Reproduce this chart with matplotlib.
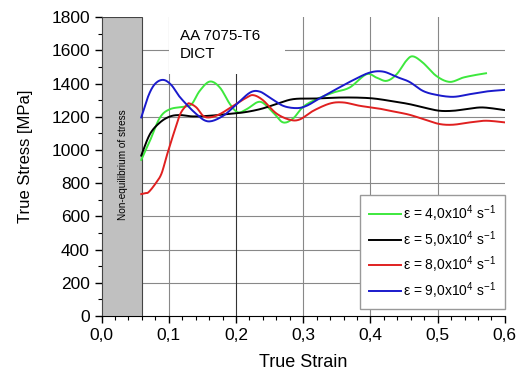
import numpy as np
import matplotlib
matplotlib.use("Agg")
import matplotlib.pyplot as plt
from matplotlib.patches import Rectangle
from matplotlib.ticker import MultipleLocator, FuncFormatter

plt.rcParams['font.family'] = ['Liberation Sans', 'DejaVu Sans']
plt.rcParams['mathtext.fontset'] = 'custom'
plt.rcParams['mathtext.rm'] = 'Liberation Sans'
plt.rcParams['mathtext.it'] = 'Liberation Sans:italic'

# curve data (true strain, true stress in MPa)
green_x = [0.059, 0.072, 0.087, 0.102, 0.122, 0.134, 0.146, 0.161, 0.176, 0.191, 0.203,
           0.216, 0.236, 0.255, 0.270, 0.285, 0.300, 0.320, 0.345, 0.369, 0.394, 0.409,
           0.424, 0.439, 0.453, 0.463, 0.478, 0.498, 0.518, 0.538, 0.557, 0.572]
green_y = [940, 1056, 1196, 1246, 1260, 1276, 1356, 1412, 1376, 1276, 1226,
           1246, 1290, 1226, 1166, 1190, 1260, 1306, 1346, 1376, 1456, 1436,
           1416, 1456, 1536, 1564, 1526, 1446, 1410, 1436, 1452, 1462]

black_x = [0.059, 0.072, 0.087, 0.102, 0.117, 0.136, 0.161, 0.186, 0.211, 0.236, 0.260,
           0.285, 0.320, 0.360, 0.399, 0.429, 0.458, 0.483, 0.503, 0.523, 0.543, 0.567, 0.600]
black_y = [966, 1096, 1166, 1202, 1210, 1202, 1206, 1216, 1226, 1246, 1276,
           1306, 1310, 1316, 1312, 1296, 1276, 1252, 1236, 1236, 1246, 1256, 1240]

red_x = [0.059, 0.065, 0.070, 0.080, 0.089, 0.097, 0.107, 0.117, 0.127, 0.131, 0.141,
         0.151, 0.161, 0.176, 0.196, 0.216, 0.226, 0.240, 0.260, 0.280, 0.295, 0.315,
         0.340, 0.360, 0.384, 0.409, 0.434, 0.458, 0.483, 0.503, 0.523, 0.548, 0.572, 0.600]
red_y = [734, 740, 746, 796, 856, 966, 1096, 1216, 1272, 1280, 1256,
         1206, 1196, 1216, 1266, 1316, 1330, 1300, 1220, 1182, 1184, 1236,
         1280, 1286, 1266, 1252, 1232, 1212, 1180, 1156, 1152, 1166, 1176, 1166]

blue_x = [0.059, 0.070, 0.080, 0.092, 0.104, 0.117, 0.141, 0.159, 0.181, 0.201, 0.221,
          0.235, 0.250, 0.270, 0.290, 0.305, 0.325, 0.349, 0.374, 0.399, 0.419, 0.439,
          0.458, 0.478, 0.498, 0.523, 0.548, 0.572, 0.600]
blue_y = [1196, 1330, 1400, 1422, 1390, 1316, 1216, 1172, 1206, 1276, 1346,
          1352, 1316, 1266, 1252, 1266, 1312, 1366, 1420, 1466, 1472, 1440,
          1410, 1356, 1332, 1320, 1336, 1352, 1362]

labels = ['ε = 4,0x10$^{4}$ s$^{-1}$',
          'ε = 5,0x10$^{4}$ s$^{-1}$',
          'ε = 8,0x10$^{4}$ s$^{-1}$',
          'ε = 9,0x10$^{4}$ s$^{-1}$']
colors = ['#3de83d', '#000000', '#e02020', '#1a1acc']


def smooth(x, y):
    # catmull-rom resampling so the curves look smooth like the original
    x = np.asarray(x, float)
    y = np.asarray(y, float)
    xs, ys = [], []
    for i in range(len(x) - 1):
        p0 = max(i - 1, 0)
        p3 = min(i + 2, len(x) - 1)
        t = np.linspace(0, 1, 12, endpoint=False)
        for arr, out in ((x, xs), (y, ys)):
            a0, a1, a2, a3 = arr[p0], arr[i], arr[i + 1], arr[p3]
            out.extend(0.5 * ((2 * a1) + (-a0 + a2) * t
                              + (2 * a0 - 5 * a1 + 4 * a2 - a3) * t ** 2
                              + (-a0 + 3 * a1 - 3 * a2 + a3) * t ** 3))
    xs.append(x[-1])
    ys.append(y[-1])
    return np.array(xs), np.array(ys)


fig = plt.figure(figsize=(5.21, 3.73), dpi=100)
ax = fig.add_axes([0.195, 0.153, 0.774, 0.801])

ax.set_xlim(0, 0.6)
ax.set_ylim(0, 1800)

for yv in range(200, 1800, 200):
    ax.axhline(yv, color='#888888', lw=0.8, zorder=0)
for xv in [0.1, 0.2, 0.3, 0.4, 0.5]:
    ax.axvline(xv, color='#333333' if xv == 0.2 else '#888888', lw=0.8, zorder=0)

# text box blanks the grid behind the label
ax.add_patch(Rectangle((0.1, 1460), 0.173, 340, facecolor='white', edgecolor='none', zorder=1))
ax.text(0.116, 1730, 'AA 7075-T6\nDICT', fontsize=11, va='top', ha='left',
        linespacing=1.35, zorder=2)

ax.add_patch(Rectangle((0, 0), 0.06, 1800, facecolor='#c0c0c0', edgecolor='#444444',
                       lw=0.8, zorder=3))
ax.text(0.032, 912, 'Non-equilibrium of stress', rotation=90, fontsize=7.2,
        ha='center', va='center', zorder=4)

for xs, ys, c, lab in zip([green_x, black_x, red_x, blue_x],
                          [green_y, black_y, red_y, blue_y], colors, labels):
    sx, sy = smooth(xs, ys)
    ax.plot(sx, sy, color=c, lw=1.4, label=lab, zorder=5)

ax.spines['top'].set_visible(False)
ax.spines['right'].set_visible(False)
ax.xaxis.set_major_locator(MultipleLocator(0.1))
ax.xaxis.set_minor_locator(MultipleLocator(0.02))
ax.yaxis.set_major_locator(MultipleLocator(200))
ax.yaxis.set_minor_locator(MultipleLocator(100))
ax.xaxis.set_major_formatter(FuncFormatter(lambda v, p: f'{v:.1f}'.replace('.', ',')))
ax.tick_params(which='major', length=5, width=1, labelsize=12.5, direction='out')
ax.tick_params(which='minor', length=3, width=0.8, direction='out')

ax.set_xlabel('True Strain', fontsize=13, labelpad=8)
ax.set_ylabel('True Stress [MPa]', fontsize=12)
ax.yaxis.set_label_coords(-0.17, 0.535)

leg = ax.legend(loc='lower right', bbox_to_anchor=(1.0, 0.023), fontsize=10,
                fancybox=False, framealpha=1, edgecolor='#999999',
                handlelength=2.3, handletextpad=0.2, borderpad=0.6, labelspacing=0.35,
                borderaxespad=0)
leg.set_zorder(10)

fig.savefig('out.png', dpi=100)
